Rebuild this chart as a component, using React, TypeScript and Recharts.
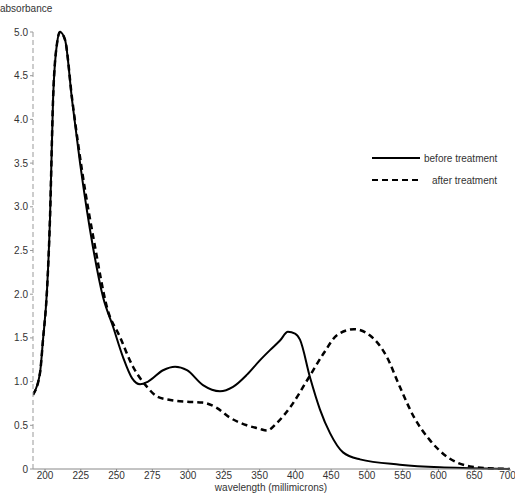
import { LineChart, Line, XAxis, YAxis } from "recharts";

// wavelengths (millimicrons) and absorbance
const BEFORE_NM = [
  191.6, 196.5, 198.6, 201.4, 203.5, 205.6, 208.4, 210.5, 214, 218.9, 224.5, 233.5, 240.5,
  247.5, 254.5, 260.8, 266.4, 272, 282.5, 290.9, 299.2, 310.4, 322.3, 331.4, 341.2,
  350, 364.5, 378.5, 389.6, 399.5, 406.4, 420.4, 434.4, 448.4, 466.6, 490.3, 546, 602, 644, 700,
];
const BEFORE_ABS = [
  0.85, 1.1, 1.48, 2.05, 2.88, 4.22, 4.87, 5.0, 4.91, 4.22, 3.5, 2.54, 1.97,
  1.63, 1.28, 1.04, 0.97, 1.0, 1.13, 1.17, 1.13, 0.96, 0.89, 0.94, 1.08,
  1.24, 1.36, 1.47, 1.57, 1.55, 1.48, 1.05, 0.68, 0.41, 0.19, 0.11, 0.05, 0.02, 0.01, 0,
];
const AFTER_NM = [
  191.6, 196.5, 198.6, 201.4, 203.5, 205.6, 208.4, 210.5, 214, 218.9, 226, 235,
  243.3, 252.4, 261.5, 271.3, 278.3, 287.6, 299, 310, 320, 329, 341, 350, 360, 374.5, 393, 419,
  440, 458, 482, 504, 528, 546, 566, 588, 612, 644, 680, 700,
];
const AFTER_ABS = [
  0.85, 1.1, 1.48, 2.05, 2.88, 4.22, 4.87, 5.0, 4.91, 4.24, 3.4, 2.54,
  1.85, 1.51, 1.17, 0.94, 0.83, 0.79, 0.77, 0.76, 0.7, 0.59, 0.5, 0.46, 0.44, 0.53, 0.71, 1.05,
  1.33, 1.53, 1.6, 1.53, 1.28, 0.94, 0.59, 0.33, 0.14, 0.03, 0.005, 0,
];
const X_TICK_NM = [200, 225, 250, 275, 300, 325, 350, 400, 450, 500, 550, 600, 650, 700];
const Y_TICKS = [0, 0.5, 1, 1.5, 2, 2.5, 3, 3.5, 4, 4.5, 5];

// the axis is stretched below 350: 25 nm per step, above it 50 nm per step
const toPos = (nm: number) => (nm <= 350 ? (nm - 200) / 25 : 6 + (nm - 350) / 50);
const fromPos = (p: number) => (p <= 6 ? 200 + p * 25 : 350 + (p - 6) * 50);

const before = BEFORE_NM.map((nm, i) => ({ pos: toPos(nm), a: BEFORE_ABS[i] }));
const after = AFTER_NM.map((nm, i) => ({ pos: toPos(nm), a: AFTER_ABS[i] }));

const FONT = "'Liberation Sans', Arial, sans-serif";
const INK = "#333";

const SERIES = [
  { name: "before treatment", dash: undefined as string | undefined, indent: 4 },
  { name: "after treatment", dash: "6 4", indent: 12 },
];

const textStyle = { position: "absolute" as const, fontFamily: FONT, fontSize: 10, color: INK, lineHeight: "11px" };

export default function App() {
  return (
    <div style={{ position: "absolute", left: 0, top: 0, width: 515, height: 494, background: "#fff" }}>
      <div style={{ ...textStyle, left: 0, top: 3 }}>absorbance</div>
      {/* axis title and legend sit outside the chart so they don't shrink the plot */}
      <div style={{ ...textStyle, left: 171, width: 200, top: 482, textAlign: "center" }}>
        wavelength (millimicrons)
      </div>
      <div style={{ ...textStyle, left: 372, top: 147 }}>
        {SERIES.map((s) => (
          <div key={s.name} style={{ display: "flex", alignItems: "center", height: 22 }}>
            <svg width={48} height={6}>
              <line x1={0} y1={3} x2={48} y2={3} stroke="#000" strokeWidth={2} strokeDasharray={s.dash} />
            </svg>
            <span style={{ marginLeft: s.indent }}>{s.name}</span>
          </div>
        ))}
      </div>
      <LineChart width={515} height={494} margin={{ top: 32, right: 5, bottom: 0, left: 0 }}>
        <XAxis
          type="number"
          dataKey="pos"
          domain={[toPos(191.6), 13]}
          ticks={X_TICK_NM.map(toPos)}
          tickFormatter={(v: number) => String(Math.round(fromPos(v)))}
          allowDataOverflow
          height={25}
          stroke="#888"
          tickSize={2}
          tickMargin={1}
          tick={{ fontSize: 10, fill: INK, fontFamily: FONT }}
        />
        <YAxis
          type="number"
          dataKey="a"
          domain={[0, 5]}
          ticks={Y_TICKS}
          tickFormatter={(v: number) => (v === 0 ? "0" : v.toFixed(1))}
          width={33}
          stroke="#999"
          strokeDasharray="5 3"
          tickSize={3}
          tick={{ fontSize: 10, fill: INK, fontFamily: FONT }}
        />
        <Line
          data={before}
          dataKey="a"
          name="before treatment"
          type="monotone"
          stroke="#000"
          strokeWidth={2}
          dot={false}
          isAnimationActive={false}
        />
        <Line
          data={after}
          dataKey="a"
          name="after treatment"
          type="monotone"
          stroke="#000"
          strokeWidth={2.5}
          strokeDasharray="6 4"
          dot={false}
          isAnimationActive={false}
        />
      </LineChart>
    </div>
  );
}
